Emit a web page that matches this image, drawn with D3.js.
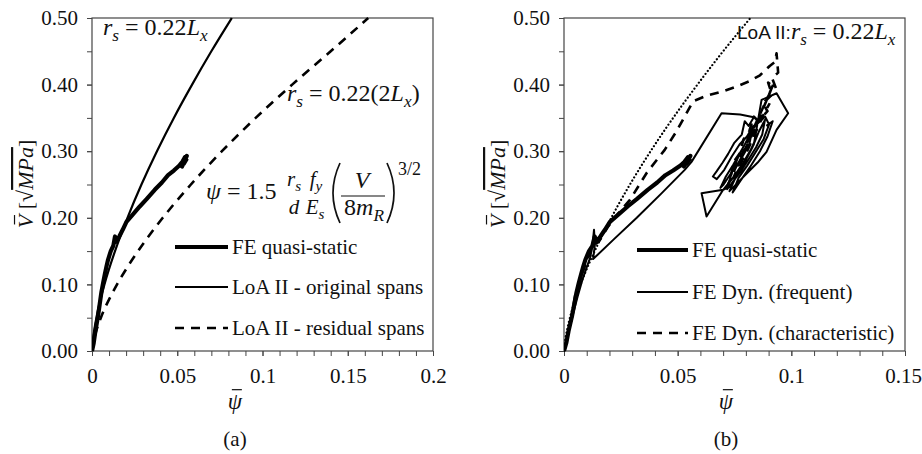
<!DOCTYPE html>
<html>
<head>
<meta charset="utf-8">
<script src="https://cdn.jsdelivr.net/npm/d3@7"></script>
<style>
  body { margin: 0; background: #fff; }
  svg { display: block; }
  text { font-family: "Liberation Serif", "Times New Roman", serif; fill: #111; }
  .sans { font-family: "Liberation Sans", Arial, sans-serif; }
</style>
</head>
<body>
<svg id="chart" width="922" height="454"></svg>
<script>
// ---- tick values and labels ----
const yTicks = [0, 0.1, 0.2, 0.3, 0.4, 0.5];
const yTickLabels = ["0.00", "0.10", "0.20", "0.30", "0.40", "0.50"];
const xTicksA = [0, 0.05, 0.1, 0.15, 0.2];
const xTickLabelsA = ["0", "0.05", "0.1", "0.15", "0.2"];
const xTicksB = [0, 0.05, 0.1, 0.15];
const xTickLabelsB = ["0", "0.05", "0.1", "0.15"];

// ---- series: [psi, V] ----
const quasiStatic = [
  [0, 0], [0.001, 0.012], [0.002, 0.03], [0.0035, 0.052], [0.0045, 0.07], [0.0055, 0.088],
  [0.0065, 0.102], [0.0075, 0.115], [0.0085, 0.127], [0.0094, 0.137], [0.011, 0.15],
  [0.0125, 0.158], [0.0135, 0.172], [0.0143, 0.164], [0.016, 0.172], [0.018, 0.182],
  [0.0202, 0.194], [0.024, 0.205], [0.028, 0.217], [0.032, 0.228], [0.0368, 0.242],
  [0.041, 0.253], [0.0446, 0.264], [0.048, 0.271], [0.0514, 0.279], [0.053, 0.284],
  [0.0545, 0.291], [0.0528, 0.277], [0.0556, 0.293], [0.0538, 0.281], [0.0557, 0.289]
];

// LoA II, r_s = 0.22 L_x
const loaOriginal = [
  [0, 0], [0.0007, 0.02], [0.0026, 0.05], [0.0073, 0.1], [0.0135, 0.15], [0.0208, 0.2],
  [0.029, 0.25], [0.0381, 0.3], [0.048, 0.35], [0.0587, 0.4], [0.070, 0.45], [0.082, 0.5]
];

// LoA II, r_s = 0.22 (2 L_x)
const loaResidual = [
  [0, 0], [0.0014, 0.02], [0.0052, 0.05], [0.0147, 0.1], [0.027, 0.15], [0.0415, 0.2],
  [0.058, 0.25], [0.0762, 0.3], [0.096, 0.35], [0.1174, 0.4], [0.140, 0.45], [0.162, 0.5]
];

const dynFrequent = [
  [0, 0], [0.002, 0.028], [0.004, 0.056], [0.006, 0.082], [0.008, 0.106], [0.010, 0.126],
  [0.0115, 0.14], [0.0125, 0.158], [0.0132, 0.182], [0.0136, 0.16], [0.0128, 0.138],
  [0.022, 0.168], [0.032, 0.2], [0.043, 0.237], [0.0531, 0.272], [0.0561, 0.284],
  [0.0693, 0.357], [0.0775, 0.355], [0.0835, 0.351], [0.0812, 0.338], [0.0795, 0.345],
  [0.0782, 0.325], [0.0748, 0.312], [0.0722, 0.296], [0.0698, 0.283], [0.0672, 0.27],
  [0.0655, 0.262], [0.0672, 0.258], [0.0705, 0.272], [0.0738, 0.292], [0.0772, 0.31],
  [0.0805, 0.322], [0.0832, 0.338], [0.0815, 0.31], [0.0785, 0.292], [0.0752, 0.275],
  [0.0725, 0.262], [0.0702, 0.25], [0.0688, 0.245], [0.0712, 0.262], [0.0745, 0.28],
  [0.0782, 0.302], [0.082, 0.325], [0.0848, 0.322], [0.0808, 0.292], [0.0765, 0.268],
  [0.0738, 0.248], [0.070, 0.242], [0.0605, 0.237], [0.0627, 0.202], [0.070, 0.242],
  [0.0748, 0.262], [0.0792, 0.285], [0.0835, 0.31], [0.0869, 0.377], [0.0935, 0.387],
  [0.0986, 0.357], [0.0935, 0.332], [0.0891, 0.299], [0.0852, 0.283], [0.0808, 0.268],
  [0.0762, 0.252], [0.0728, 0.24], [0.0755, 0.262], [0.0792, 0.282], [0.0828, 0.305],
  [0.0858, 0.33], [0.0884, 0.347], [0.0872, 0.325], [0.0845, 0.306], [0.0812, 0.288],
  [0.0778, 0.27], [0.0745, 0.255], [0.0718, 0.243], [0.0738, 0.268], [0.0765, 0.29],
  [0.0798, 0.312], [0.0832, 0.335], [0.0885, 0.352], [0.0902, 0.34], [0.0878, 0.318],
  [0.0842, 0.298], [0.0805, 0.278], [0.0768, 0.26], [0.0742, 0.238], [0.0775, 0.255],
  [0.0818, 0.276], [0.0862, 0.30], [0.0895, 0.322], [0.0918, 0.345], [0.089, 0.338]
];

const dynCharacteristic = [
  [0, 0], [0.002, 0.03], [0.0035, 0.055], [0.005, 0.085], [0.007, 0.108], [0.0095, 0.13],
  [0.0115, 0.148], [0.0135, 0.16], [0.0155, 0.165], [0.019, 0.185], [0.024, 0.207],
  [0.029, 0.227], [0.0365, 0.268], [0.0443, 0.302], [0.0495, 0.33], [0.0539, 0.357],
  [0.0568, 0.375], [0.0625, 0.383], [0.070, 0.39], [0.0759, 0.397], [0.0815, 0.405],
  [0.0862, 0.414], [0.0905, 0.428], [0.0928, 0.434], [0.0935, 0.447], [0.0942, 0.418],
  [0.0915, 0.41], [0.0932, 0.395], [0.0898, 0.403], [0.0915, 0.385], [0.0875, 0.372],
  [0.0895, 0.36], [0.0855, 0.345], [0.0835, 0.352], [0.0815, 0.33], [0.079, 0.318],
  [0.0772, 0.296], [0.0748, 0.285], [0.0735, 0.265], [0.0722, 0.25], [0.0745, 0.268],
  [0.0775, 0.29], [0.0805, 0.312], [0.0835, 0.335], [0.0868, 0.36], [0.0902, 0.385],
  [0.092, 0.40], [0.0895, 0.38], [0.0862, 0.352], [0.0828, 0.325], [0.0795, 0.302],
  [0.0768, 0.28], [0.0748, 0.262], [0.0772, 0.278], [0.0808, 0.302], [0.0845, 0.33],
  [0.0878, 0.355], [0.0905, 0.372]
];

const legendA = ["FE quasi-static", "LoA II - original spans", "LoA II - residual spans"];
const legendB = ["FE quasi-static", "FE Dyn. (frequent)", "FE Dyn. (characteristic)"];

// ---- line styles ----
const styles = {
  thick:  { width: 4.2, dash: null, cap: "butt" },
  solid:  { width: 2.2, dash: null, cap: "butt" },
  dashed: { width: 2.6, dash: "9,7", cap: "butt" },
  dotted: { width: 2.2, dash: "0.1,3.6", cap: "round" },
  thin:   { width: 2.0, dash: null, cap: "butt" }
};

const svg = d3.select("#chart");
const axisColor = "#454545";
const yTop = 18, yBot = 351;

// text with italic symbols and lowered subscripts
function mathText(g, x, y, size, segs, anchor) {
  const t = g.append("text").attr("x", x).attr("y", y).attr("font-size", size);
  if (anchor) t.attr("text-anchor", anchor);
  let shift = 0;
  segs.forEach(([s, kind]) => {
    const ts = t.append("tspan").text(s);
    if (kind === "sub") {
      const d = size * 0.26;
      ts.attr("font-size", size * 0.72).attr("font-style", "italic").attr("dy", d - shift);
      shift = d;
    } else {
      if (shift !== 0) ts.attr("dy", -shift);
      shift = 0;
      if (kind === "i") ts.attr("font-style", "italic");
    }
  });
  return t;
}

// short bar over the first glyph of a text (baseline at y = 0 of its parent frame)
function barOver(parent, textSel, size, baseY) {
  const e = textSel.node().getExtentOfChar(0);
  const yb = baseY - 0.84 * size;
  parent.append("line")
    .attr("x1", e.x + e.width * 0.28).attr("x2", e.x + e.width * 0.98)
    .attr("y1", yb).attr("y2", yb)
    .attr("stroke", "#111").attr("stroke-width", 1.2);
}

function panel(cfg) {
  const g = svg.append("g");
  const x = d3.scaleLinear().domain([0, cfg.xMax]).range([cfg.x0, cfg.x1]);
  const y = d3.scaleLinear().domain([0, 0.5]).range([yBot, yTop]);

  // minor ticks
  const xMinor = d3.range(0, cfg.xMax + 1e-9, 0.01);
  const yMinor = d3.range(0, 0.5001, 0.05);
  const xm = g.append("g").attr("transform", `translate(0,${yBot})`)
    .call(d3.axisBottom(x).tickValues(xMinor).tickSize(5).tickFormat(""));
  const ym = g.append("g").attr("transform", `translate(${cfg.x0},0)`)
    .call(d3.axisLeft(y).tickValues(yMinor).tickSize(5).tickFormat(""));

  const xa = g.append("g").attr("transform", `translate(0,${yBot})`)
    .call(d3.axisBottom(x).tickValues(cfg.xTicks).tickSize(5).tickPadding(12)
      .tickFormat((d, i) => cfg.xLabels[i]));
  const ya = g.append("g").attr("transform", `translate(${cfg.x0},0)`)
    .call(d3.axisLeft(y).tickValues(yTicks).tickSize(5).tickPadding(9)
      .tickFormat((d, i) => yTickLabels[i]));

  [xm, ym, xa, ya].forEach(a => {
    a.select(".domain").remove();
    a.selectAll("line").attr("stroke", axisColor).attr("stroke-width", 1);
    a.selectAll("text").attr("font-size", 21).attr("fill", "#111")
      .style("font-family", '"Liberation Serif", serif');
  });
  if (cfg.lastLabelShift) {
    xa.selectAll(".tick text").filter((d, i, n) => i === n.length - 1)
      .attr("dx", cfg.lastLabelShift);
  }

  // frame
  g.append("rect").attr("x", cfg.x0).attr("y", yTop)
    .attr("width", cfg.x1 - cfg.x0).attr("height", yBot - yTop)
    .attr("fill", "none").attr("stroke", axisColor).attr("stroke-width", 1.2);

  const clipId = "clip-" + cfg.id;
  svg.append("clipPath").attr("id", clipId).append("rect")
    .attr("x", cfg.x0).attr("y", yTop - 1).attr("width", cfg.x1 - cfg.x0)
    .attr("height", yBot - yTop + 2);

  const plot = g.append("g").attr("clip-path", `url(#${clipId})`);
  cfg.series.forEach(s => {
    const st = styles[s.style];
    const line = d3.line().x(d => x(d[0])).y(d => y(d[1]))
      .curve(s.smooth ? d3.curveMonotoneY : d3.curveLinear);
    plot.append("path").datum(s.data).attr("d", line)
      .attr("fill", "none").attr("stroke", "#000")
      .attr("stroke-width", st.width)
      .attr("stroke-linejoin", "round")
      .attr("stroke-linecap", st.cap)
      .attr("stroke-dasharray", st.dash);
  });

  // legend
  cfg.legend.forEach((name, i) => {
    const st = styles[cfg.legendStyles[i]];
    const ly = cfg.legendY[i];
    g.append("line").attr("x1", cfg.legendX[0]).attr("x2", cfg.legendX[1])
      .attr("y1", ly).attr("y2", ly).attr("stroke", "#000")
      .attr("stroke-width", st.width).attr("stroke-dasharray", st.dash);
    g.append("text").attr("x", cfg.legendX[1] + 4).attr("y", ly + 7)
      .attr("font-size", 21).text(name);
  });

  // y axis title: V-bar [sqrt(MPa)]
  const ylg = g.append("g").attr("transform", `translate(${cfg.yLabelX},184) rotate(-90)`);
  const yl = ylg.append("text").attr("text-anchor", "middle").attr("font-size", 22);
  yl.append("tspan").attr("font-style", "italic").text("V");
  yl.append("tspan").text(" [\u221A");
  yl.append("tspan").attr("font-style", "italic").style("text-decoration", "overline").text("MPa");
  yl.append("tspan").text("]");
  barOver(ylg, yl, 22, 0);

  // x axis title: psi-bar
  const xlg = g.append("g").attr("transform", `translate(${cfg.xLabelX},409)`);
  const xl = xlg.append("text").attr("text-anchor", "middle")
    .attr("font-size", 23).attr("font-style", "italic").text("\u03C8");
  barOver(xlg, xl, 23, 0);

  g.append("text").attr("x", cfg.xLabelX).attr("y", 446).attr("text-anchor", "middle")
    .attr("font-size", 21).text(cfg.caption);
  return g;
}

const gA = panel({
  id: "a", x0: 92, x1: 433, xMax: 0.2, xTicks: xTicksA, xLabels: xTickLabelsA,
  series: [
    { data: loaOriginal, style: "solid", smooth: true },
    { data: loaResidual, style: "dashed", smooth: true },
    { data: quasiStatic, style: "thick" }
  ],
  legend: legendA, legendStyles: ["thick", "solid", "dashed"],
  legendX: [175, 228], legendY: [247, 287, 328],
  yLabelX: 33, xLabelX: 235, caption: "(a)"
});

const gB = panel({
  id: "b", x0: 564, x1: 905, xMax: 0.15, xTicks: xTicksB, xLabels: xTickLabelsB,
  lastLabelShift: -2,
  series: [
    { data: loaOriginal, style: "dotted", smooth: true },
    { data: dynCharacteristic, style: "dashed" },
    { data: dynFrequent, style: "thin" },
    { data: quasiStatic, style: "thick" }
  ],
  legend: legendB, legendStyles: ["thick", "solid", "dashed"],
  legendX: [637, 688], legendY: [250, 292, 333],
  yLabelX: 505, xLabelX: 726, caption: "(b)"
});

// ---- annotations, panel (a) ----
mathText(gA, 103, 35, 24, [["r", "i"], ["s", "sub"], [" = 0.22"], ["L", "i"], ["x", "sub"]]);
mathText(gA, 287, 101, 24, [["r", "i"], ["s", "sub"], [" = 0.22(2"], ["L", "i"], ["x", "sub"], [")"]]);

// psi = 1.5 (r_s/d)(f_y/E_s)(V/8m_R)^(3/2)
mathText(gA, 206, 199, 24, [["\u03C8", "i"], [" = 1.5"]]);
mathText(gA, 294, 186, 21, [["r", "i"], ["s", "sub"]], "middle");
mathText(gA, 294, 214, 21, [["d", "i"]], "middle");
mathText(gA, 316, 186, 21, [["f", "i"], ["y", "sub"]], "middle");
mathText(gA, 315, 214, 21, [["E", "i"], ["s", "sub"]], "middle");
gA.append("path").attr("d", "M340,163 Q326,193 340,223").attr("fill", "none")
  .attr("stroke", "#111").attr("stroke-width", 1.7);
mathText(gA, 362, 188, 24, [["V", "i"]], "middle");
gA.append("line").attr("x1", 341).attr("x2", 385).attr("y1", 196).attr("y2", 196)
  .attr("stroke", "#111").attr("stroke-width", 1.2);
mathText(gA, 364, 215, 24, [["8"], ["m", "i"], ["R", "sub"]], "middle");
gA.append("path").attr("d", "M387,163 Q401,193 387,223").attr("fill", "none")
  .attr("stroke", "#111").attr("stroke-width", 1.7);
gA.append("text").attr("x", 398).attr("y", 175).attr("font-size", 18).text("3/2");

// ---- annotation, panel (b) ----
const lb = gB.append("text").attr("x", 737).attr("y", 39).attr("font-size", 24);
lb.append("tspan").attr("class", "sans").attr("font-size", 19).text("LoA II:");
lb.append("tspan").attr("font-style", "italic").text("r");
lb.append("tspan").attr("font-style", "italic").attr("font-size", 17).attr("dy", 6).text("s");
lb.append("tspan").attr("dy", -6).text(" = 0.22");
lb.append("tspan").attr("font-style", "italic").text("L");
lb.append("tspan").attr("font-style", "italic").attr("font-size", 17).attr("dy", 6).text("x");
</script>
</body>
</html>
